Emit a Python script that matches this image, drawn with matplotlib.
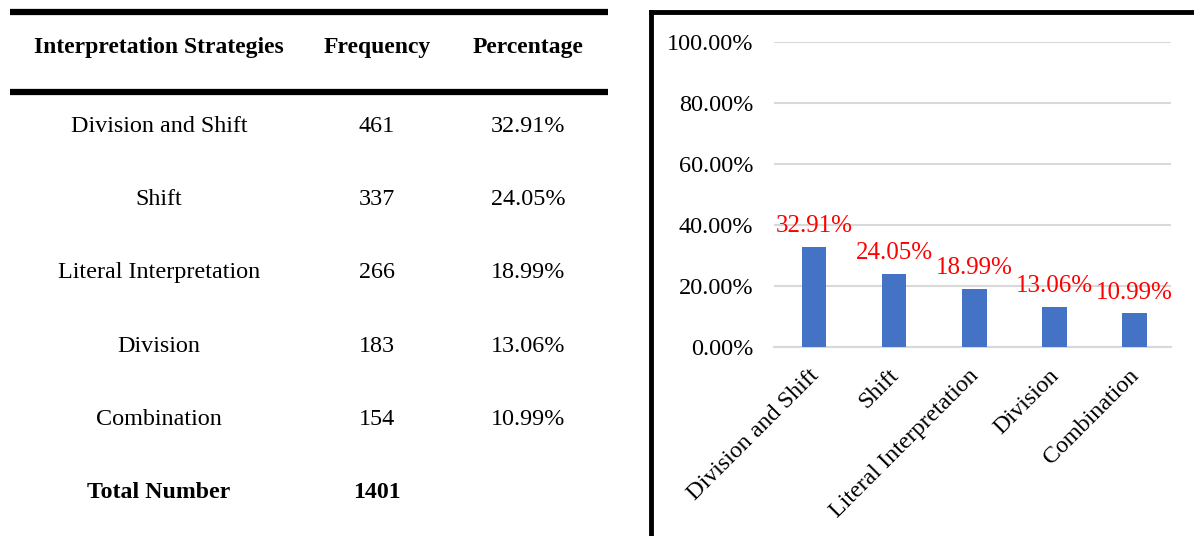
import numpy as np
import matplotlib
matplotlib.use('Agg')
from matplotlib import pyplot as plt
from matplotlib.ticker import PercentFormatter
from matplotlib.transforms import ScaledTranslation

plt.rcParams['font.family'] = ['Liberation Serif', 'DejaVu Serif']

## table / chart data
headers     = ['Interpretation Strategies', 'Frequency', 'Percentage']
strategies  = ['Division and Shift', 'Shift', 'Literal Interpretation', 'Division', 'Combination']
frequency   = [461, 337, 266, 183, 154]
percentage  = [0.3291, 0.2405, 0.1899, 0.1306, 0.1099]
total_label = 'Total Number'
total_value = 1401

W, H = 1194, 536
fig = plt.figure(figsize=(W / 100, H / 100), dpi=100)

## left side: the table, drawn in a pixel-like coordinate system
tab = fig.add_axes([0, 0, 620 / W, 1])
tab.set_xlim(0, 620)
tab.set_ylim(H, 0)
tab.axis('off')

col_x = [159, 377, 528]
tab.plot([10, 608], [12, 12], color='black', lw=4.5, solid_capstyle='butt')
tab.plot([10, 608], [92, 92], color='black', lw=4.5, solid_capstyle='butt')
for x, h in zip(col_x, headers):
    tab.text(x, 47, h, ha='center', va='center', fontsize=17, fontweight='bold')

row_y = 126 + 73.4 * np.arange(len(strategies) + 1)
for y, s, f, p in zip(row_y, strategies, frequency, percentage):
    tab.text(col_x[0], y, s, ha='center', va='center', fontsize=17.4)
    tab.text(col_x[1], y, str(f), ha='center', va='center', fontsize=17.4)
    tab.text(col_x[2], y, '%.2f%%' % (p * 100), ha='center', va='center', fontsize=17.4)
tab.text(col_x[0], row_y[-1], total_label, ha='center', va='center', fontsize=17.2, fontweight='bold')
tab.text(col_x[1], row_y[-1], str(total_value), ha='center', va='center', fontsize=17.2, fontweight='bold')

## right side: frame (left + top black border)
frame = fig.add_axes([651 / W, 0, 1 - 651 / W, 1 - 12 / H])
frame.set_xticks([])
frame.set_yticks([])
for side in ['right', 'bottom']:
    frame.spines[side].set_visible(False)
for side in ['left', 'top']:
    frame.spines[side].set_linewidth(3.5)
frame.patch.set_alpha(0)

## bar chart
ax = fig.add_axes([774 / W, (H - 347) / H, 397 / W, 305 / H])
x = np.arange(len(strategies))
bars = ax.bar(x, percentage, width=0.31, color='#4472c4', zorder=3)
ax.bar_label(bars, labels=['%.2f%%' % (p * 100) for p in percentage],
             padding=7, color='red', fontsize=18)

ax.set_ylim(0, 1.0)
ax.set_xlim(-0.5, len(strategies) - 0.54)
ax.set_yticks(np.arange(0, 1.01, 0.2))
ax.yaxis.set_major_formatter(PercentFormatter(1.0, decimals=2))
ax.grid(axis='y', color='#d9d9d9', lw=1.5, zorder=0)
ax.set_axisbelow(True)
for side in ['left', 'right', 'top']:
    ax.spines[side].set_visible(False)
ax.spines['bottom'].set_color('#d9d9d9')
ax.spines['bottom'].set_linewidth(1.5)
ax.tick_params(axis='both', length=0)
ax.tick_params(axis='y', pad=15, labelsize=17.5)
ax.tick_params(axis='x', pad=13, labelsize=17.3)
ax.set_xticks(x)
ax.set_xticklabels(strategies, rotation=45, ha='right', rotation_mode='anchor')
shift = ScaledTranslation(-6 / 100, 0, fig.dpi_scale_trans)
for lbl in ax.get_xticklabels():
    lbl.set_transform(lbl.get_transform() + shift)

fig.savefig('out.png', dpi=100)
